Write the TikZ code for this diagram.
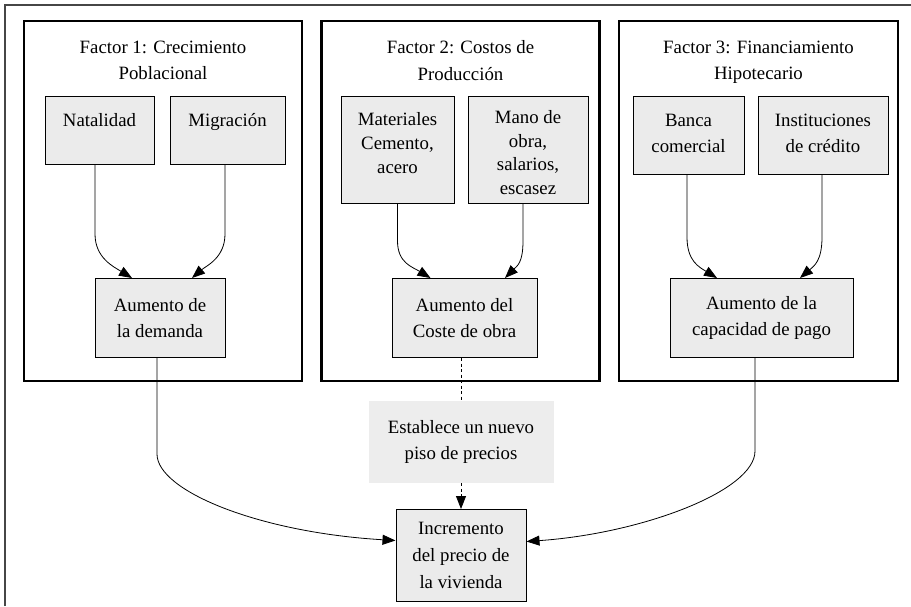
\documentclass[tikz,border=0pt]{standalone}
\usepackage{fontspec}
\setmainfont{Liberation Serif}
\usetikzlibrary{arrows.meta}

\definecolor{boxgray}{RGB}{235,235,235}
\definecolor{notegray}{RGB}{237,237,237}
\definecolor{framegray}{RGB}{70,70,70}

\tikzset{
  cluster/.style = {draw, line width=2.4pt, minimum width=278, minimum height=360, anchor = north, inner sep=0pt},
  title/.style = {align=center, anchor = north, inner sep=0pt},
  box/.style = {draw, line width=1pt, fill=boxgray, align=center, anchor = north},
  topbox/.style = {box, inner ysep=0pt},
  note/.style = {fill=notegray, align=center, anchor = north, minimum width=185, minimum height=82},
  edge/.style = {line width=0.8pt, -{Triangle[length=13pt, width=10pt]}},
  dashedge/.style = {line width=0.8pt, dash pattern=on 3pt off 2.5pt}
}

\begin{document}
\begin{tikzpicture}[x=1pt, y=-1pt, font=\fontsize{18.8}{26.5}\selectfont]
\useasboundingbox (0,0) rectangle (911,606);
\draw[framegray, line width=1.5pt] (5,606) -- (5,5) -- (911,5);

\node[cluster] (c1) at (163,20) {};
\node[cluster] (c2) at (460.5,20) {};
\node[cluster, minimum width=279] (c3) at (758.5,20) {};

\node[title] (t1) at (163,40.5) {Factor 1: Crecimiento\\Poblacional};
\node[title] (t2) at (460.5,40.5) {Factor 2: Costos de\\Producción};
\node[title] (t3) at (758.5,40.5) {Factor 3: Financiamiento\\Hipotecario};

\node[topbox, minimum width=109, text height=30pt, text depth=38pt] (nat) at (99.5,96) {Natalidad};
\node[topbox, minimum width=115, text height=30pt, text depth=38pt] (mig) at (227.5,96) {Migración};
\node[topbox, minimum width=113, text height=77pt, text depth=30pt, font=\fontsize{18.8}{24}\selectfont] (mat) at (397.5,96) {Materiales\\Cemento,\\acero};
\node[topbox, minimum width=120, text height=98pt, text depth=9pt, font=\fontsize{18.8}{23.7}\selectfont] (mano) at (528,96) {Mano de\\obra,\\salarios,\\escasez};
\node[topbox, minimum width=111, text height=56pt, text depth=22pt, font=\fontsize{18.8}{26}\selectfont] (banca) at (688.5,96) {Banca\\comercial};
\node[topbox, minimum width=130, text height=56pt, text depth=22pt, font=\fontsize{18.8}{26}\selectfont] (inst) at (823,96) {Instituciones\\de crédito};

\node[box, minimum width=130, minimum height=79] (dem) at (160,278) {Aumento de\\la demanda};
\node[box, minimum width=145, minimum height=79] (cost) at (464.5,278) {Aumento del\\Coste de obra};
\node[box, minimum width=183, minimum height=79] (cap) at (761.5,278) {Aumento de la\\capacidad de pago};

\node[note] (est) at (461,401) {Establece un nuevo\\piso de precios};
\node[box, minimum width=130, minimum height=92, font=\fontsize{18.8}{27}\selectfont] (inc) at (461,509) {Incremento\\del precio de\\la vivienda};

\draw[edge] ([xshift=-4.5]nat.south) -- ++(0,69) .. controls +(0,24) and +(-18,-11) .. ([xshift=-28]dem.north);
\draw[edge] ([xshift=-2.5]mig.south) -- ++(0,69) .. controls +(0,24) and +(14,-12) .. ([xshift=32]dem.north);
\draw[edge] (mat.south) -- ++(0,37) .. controls +(0,22) and +(-18,-11) .. ([xshift=-34]cost.north);
\draw[edge] ([xshift=-5]mano.south) -- ++(0,37) .. controls +(0,22) and +(12,-12) .. ([xshift=40.5]cost.north);
\draw[edge] ([xshift=-1.5]banca.south) -- ++(0,62) .. controls +(0,24) and +(-18,-11) .. ([xshift=-44.5]cap.north);
\draw[edge] ([xshift=-1]inst.south) -- ++(0,62) .. controls +(0,24) and +(14,-12) .. ([xshift=38.5]cap.north);

\draw[dashedge] ([xshift=-3.5]cost.south) -- (est.north);
\draw[dashedge, -{Triangle[length=13pt, width=10pt]}] (est.south) -- (inc.north);

\draw[edge] ([xshift=-3]dem.south) -- ++(0,96) .. controls +(0,37) and +(-136,-8) .. ([yshift=15]inc.west);
\draw[edge] ([xshift=-6.5]cap.south) -- ++(0,93) .. controls +(0,40) and +(115,-8) .. ([yshift=14]inc.east);
\end{tikzpicture}
\end{document}
